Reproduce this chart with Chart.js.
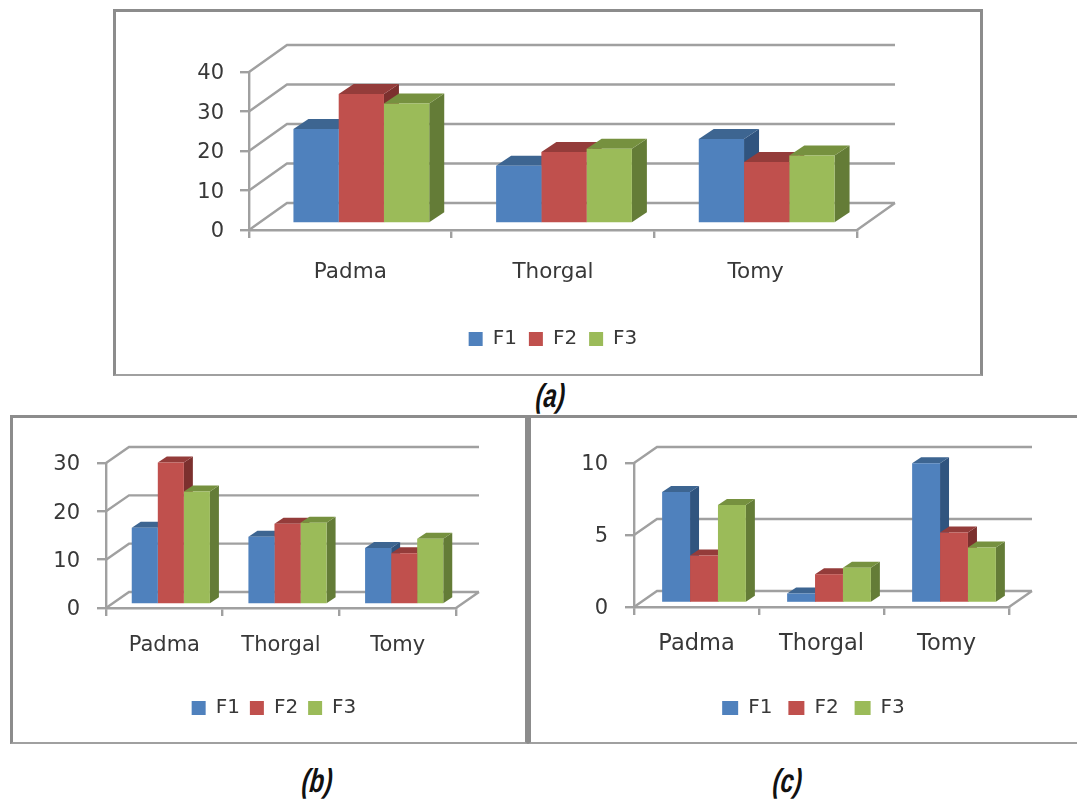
<!DOCTYPE html>
<html><head><meta charset="utf-8">
<script src="https://cdn.jsdelivr.net/npm/chart.js@4/dist/chart.umd.min.js"></script>
<style>
html,body{margin:0;padding:0;background:#fff;width:1077px;height:799px;overflow:hidden}
canvas{position:absolute}
.frame{position:absolute;box-sizing:border-box;border:3px solid #8c8c8c;border-bottom-width:2px;border-bottom-color:#a0a0a0}
.cap{position:absolute;font:italic bold 33px "Liberation Sans Narrow","Liberation Sans",sans-serif;color:#111;transform:skewX(-6deg) scaleX(.72);transform-origin:left top;line-height:36px}
</style></head><body>
<div class="frame" style="left:113px;top:9px;width:870px;height:367px"></div>
<div class="frame" style="left:10px;top:415px;width:518px;height:329px"></div>
<div class="frame" style="left:528px;top:415px;width:560px;height:329px"></div>
<div class="cap" style="left:538px;top:378px">(a)</div>
<div class="cap" style="left:304px;top:763px">(b)</div>
<div class="cap" style="left:775px;top:763px">(c)</div>
<canvas id="ca" style="left:120px;top:20px" width="864" height="350"></canvas>
<canvas id="cb" style="left:20px;top:420px" width="508" height="318"></canvas>
<canvas id="cc" style="left:570px;top:420px" width="487" height="318"></canvas>
<script>
const categories = ["Padma", "Thorgal", "Tomy"];
const seriesNames = ["F1", "F2", "F3"];
const aF1 = [23.9, 14.6, 21.4];
const aF2 = [32.8, 18.1, 15.6];
const aF3 = [30.4, 18.9, 17.2];
const bF1 = [15.9, 14, 11.7];
const bF2 = [29.4, 16.7, 10.6];
const bF3 = [23.4, 16.9, 13.6];
const cF1 = [7.7, 0.66, 9.7];
const cF2 = [3.3, 2, 4.9];
const cF3 = [6.8, 2.45, 3.85];
const frontColors = ["#4f81bd", "#c0504d", "#9bbb59"];
const topColors = ["#3d6591", "#943c3a", "#76913f"];
const sideColors = ["#30547f", "#7c302e", "#647c37"];
const gridColor = "#a0a0a0", textColor = "#383838";
const fontFamily = '"DejaVu Sans", sans-serif';

const panel3d = {
  id: "panel3d",
  afterLayout(chart, args, o) {
    const lg = chart.legend, w = lg.right - lg.left;
    lg.left = o.legendCenter - w / 2;
    lg.right = lg.left + w;
  },
  beforeDatasetsDraw(chart, args, o) {
    const {ctx, chartArea: ca, scales: {y}} = chart;
    ctx.save();
    ctx.strokeStyle = gridColor; ctx.lineWidth = 2.4;
    ctx.beginPath();
    y.ticks.forEach(t => {
      const py = y.getPixelForValue(t.value);
      ctx.moveTo(ca.left, py);
      ctx.lineTo(ca.left + o.wallDx, py - o.wallDy);
      ctx.lineTo(ca.right + o.wallDx, py - o.wallDy);
    });
    const py0 = y.getPixelForValue(0);
    ctx.moveTo(ca.right, py0);
    ctx.lineTo(ca.right + o.wallDx, py0 - o.wallDy);
    ctx.stroke();
    ctx.restore();
    ctx.save();
    ctx.translate(o.barDx, -o.barDy);
    chart.data.datasets.forEach((d, di) => {
      chart.getDatasetMeta(di).data.forEach(b => {
        const l = b.x - b.width / 2, r = b.x + b.width / 2;
        const dx = o.depthX, dy = o.depthY;
        ctx.fillStyle = sideColors[di];
        ctx.beginPath();
        ctx.moveTo(r, b.y); ctx.lineTo(r + dx, b.y - dy);
        ctx.lineTo(r + dx, b.base - dy); ctx.lineTo(r, b.base);
        ctx.closePath(); ctx.fill();
        ctx.fillStyle = topColors[di];
        ctx.beginPath();
        ctx.moveTo(l, b.y); ctx.lineTo(l + dx, b.y - dy);
        ctx.lineTo(r + dx, b.y - dy); ctx.lineTo(r, b.y);
        ctx.closePath(); ctx.fill();
      });
    });
  },
  afterDatasetsDraw(chart) { chart.ctx.restore(); }
};

function makeChart(id, series, g) {
  new Chart(document.getElementById(id), {
    type: "bar",
    plugins: [panel3d],
    data: {
      labels: categories,
      datasets: series.map((v, i) => ({
        label: seriesNames[i], data: v,
        backgroundColor: frontColors[i], borderWidth: 0,
        categoryPercentage: 0.67, barPercentage: 1, clip: false
      }))
    },
    options: {
      responsive: false, animation: false,
      layout: {padding: {top: g.padTop, right: g.padRight, bottom: g.padBottom, left: 0}},
      scales: {
        x: {
          afterFit(s) { s.height = g.xHeight; },
          grid: {drawOnChartArea: false, color: gridColor, lineWidth: 2.4, tickLength: 8, offset: true},
          border: {color: gridColor, width: 2.4},
          ticks: {color: textColor, font: {family: fontFamily, size: g.xFont}, padding: g.xPad, maxRotation: 0}
        },
        y: {
          min: 0, max: g.max,
          afterFit(s) { s.width = g.yWidth; },
          grid: {drawOnChartArea: false, color: gridColor, lineWidth: 2.4, tickLength: 9},
          border: {color: gridColor, width: 2.4},
          ticks: {stepSize: g.step, color: textColor, font: {family: fontFamily, size: 21}, padding: g.yPad, labelOffset: 2}
        }
      },
      plugins: {
        tooltip: {enabled: false},
        legend: {
          position: "bottom",
          labels: {boxWidth: g.boxW, boxHeight: 14, padding: g.legendPad, color: textColor,
                   font: {family: fontFamily, size: 20}}
        },
        panel3d: {wallDx: g.wallDx, wallDy: g.wallDy, barDx: g.barDx, barDy: g.barDy,
                  depthX: g.depthX, depthY: g.depthY, legendCenter: g.legendCenter}
      }
    }
  });
}

makeChart("ca", [aF1, aF2, aF3], {max: 40, step: 10, padTop: 52, padRight: 127, padBottom: 11,
  xHeight: 87, yWidth: 129, xPad: 22, yPad: 16, xFont: 21.5, boxW: 14, legendPad: 12, legendCenter: 433,
  wallDx: 38, wallDy: 27, barDx: 11, barDy: 6.5, depthX: 15, depthY: 10});
makeChart("cb", [bF1, bF2, bF3], {max: 30, step: 10, padTop: 43, padRight: 72, padBottom: 10,
  xHeight: 80, yWidth: 86, xPad: 17, yPad: 17, xFont: 21, boxW: 14, legendPad: 10, legendCenter: 254,
  wallDx: 23, wallDy: 16, barDx: 6.5, barDy: 3.5, depthX: 9, depthY: 6});
makeChart("cc", [cF1, cF2, cF3], {max: 10, step: 5, padTop: 43, padRight: 48, padBottom: 10,
  xHeight: 75, yWidth: 64, xPad: 16, yPad: 17, xFont: 22.5, boxW: 16, legendPad: 16, legendCenter: 243.5,
  wallDx: 23, wallDy: 16, barDx: 7.5, barDy: 4, depthX: 9, depthY: 6});
</script>
</body></html>
